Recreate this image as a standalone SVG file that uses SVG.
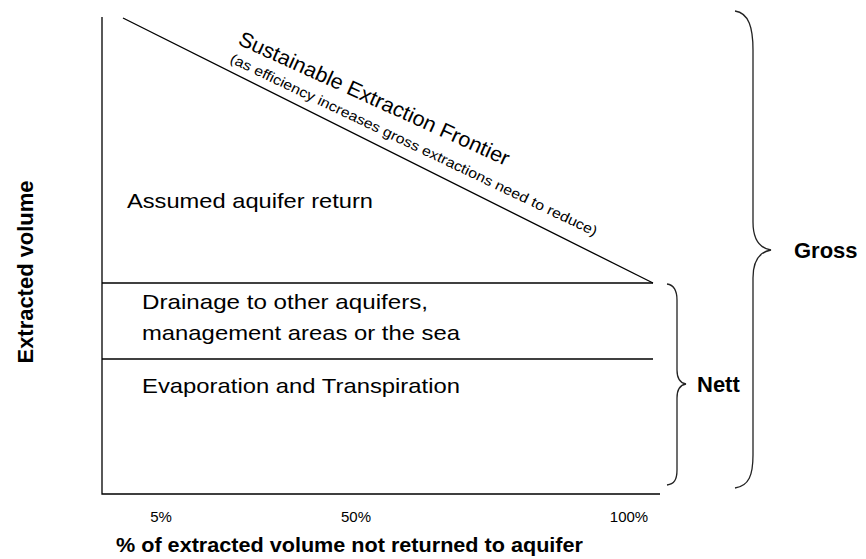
<svg xmlns="http://www.w3.org/2000/svg" width="866" height="559" viewBox="0 0 866 559">
<style>
  .ln { stroke: #000; stroke-width: 1.3; fill: none; }
  .br { stroke: #222; stroke-width: 1.3; fill: none; }
  .t { font-family: "Liberation Sans", Arial, sans-serif; fill: #000; }
  .b { font-family: "Liberation Sans", Arial, sans-serif; font-weight: bold; fill: #000; }
</style>
<rect width="866" height="559" fill="#fff"/>
<g id="axes">
  <path class="ln" d="M102,17 L102,494 L660,494"/>
</g>
<g id="connectors">
  <path class="ln" d="M123,18 L653,283"/>
  <path class="ln" d="M102,283 L653,283"/>
  <path class="ln" d="M102,359 L653,359"/>
</g>
<g id="frontier">
  <text class="t" font-size="21" transform="translate(237,44) rotate(24.4)" textLength="295" lengthAdjust="spacingAndGlyphs">Sustainable Extraction Frontier</text>
  <text class="t" font-size="14" transform="translate(229,62) rotate(25.5)" textLength="405" lengthAdjust="spacingAndGlyphs">(as efficiency increases gross extractions need to reduce)</text>
</g>
<g id="aquifer-return">
  <text class="t" font-size="21" x="127" y="208" textLength="246" lengthAdjust="spacingAndGlyphs">Assumed aquifer return</text>
</g>
<g id="drainage">
  <text class="t" font-size="21" x="142" y="309" textLength="286" lengthAdjust="spacingAndGlyphs">Drainage to other aquifers,</text>
  <text class="t" font-size="21" x="142" y="340" textLength="318" lengthAdjust="spacingAndGlyphs">management areas or the sea</text>
</g>
<g id="evaporation">
  <text class="t" font-size="21" x="142" y="393" textLength="318" lengthAdjust="spacingAndGlyphs">Evaporation and Transpiration</text>
</g>
<g id="nett">
  <path class="br" d="M667,284 C674,285 677,290 677,300 L677,370 C677,378 680,383 686,384 C680,385 677,390 677,398 L677,470 C677,480 674,484 667,485"/>
  <text class="b" font-size="22" x="697" y="392">Nett</text>
</g>
<g id="gross">
  <path class="br" d="M735,11 C749,13 753,28 753,50 L753,222 C753,238 759,248 771,250 C759,252 753,262 753,278 L753,455 C753,475 749,486 735,488"/>
  <text class="b" font-size="22" x="794" y="258">Gross</text>
</g>
<g id="ticks">
  <text class="t" font-size="15" x="161" y="522" text-anchor="middle">5%</text>
  <text class="t" font-size="15" x="356" y="522" text-anchor="middle">50%</text>
  <text class="t" font-size="15" x="629" y="522" text-anchor="middle">100%</text>
</g>
<g id="labels">
  <text class="b" font-size="21" x="116" y="552" textLength="467" lengthAdjust="spacingAndGlyphs">% of extracted volume not returned to aquifer</text>
  <text class="b" font-size="22" transform="translate(33,272) rotate(-90)" text-anchor="middle" textLength="183" lengthAdjust="spacingAndGlyphs">Extracted volume</text>
</g>
</svg>
